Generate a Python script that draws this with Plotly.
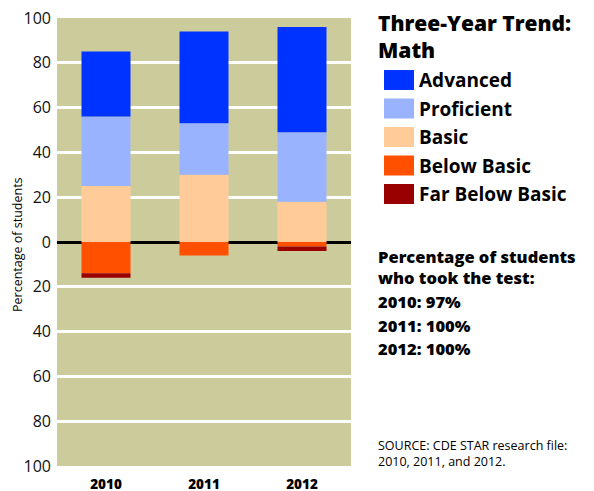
import plotly.graph_objects as go

years = ["2010", "2011", "2012"]
advanced = [29, 41, 47]
proficient = [31, 23, 31]
basic = [25, 30, 18]
below_basic = [14, 6, 2]
far_below_basic = [2, 0, 2]

level_names = ["Advanced", "Proficient", "Basic", "Below Basic", "Far Below Basic"]
level_colors = ["#0033FF", "#99B3FF", "#FFCC99", "#FF5000", "#990000"]

tick_vals = [-100, -80, -60, -40, -20, 0, 20, 40, 60, 80, 100]
tick_text = ["100", "80", "60", "40", "20", "0", "20", "40", "60", "80", "100"]

title_lines = ["Three-Year Trend:", "Math"]
tested_heading = ["Percentage of students", "who took the test:"]
tested_lines = ["2010: 97%", "2011: 100%", "2012: 100%"]
source_lines = ["SOURCE: CDE STAR research file:", "2010, 2011, and 2012."]

FONT = "Open Sans"
W, H = 594, 491
# plot area in pixels
L, R, T, B = 57, 351, 18, 466


def px(x):
    return (x - L) / (R - L)


def py(y):
    return (B - y) / (B - T)


fig = go.Figure()
stack = [
    (basic, 1, 2),
    (proficient, 1, 1),
    (advanced, 1, 0),
    (below_basic, -1, 3),
    (far_below_basic, -1, 4),
]
for vals, sign, ci in stack:
    fig.add_trace(go.Bar(
        x=years, y=[sign * v for v in vals], name=level_names[ci],
        marker=dict(color=level_colors[ci], line=dict(width=0)),
        showlegend=False, hoverinfo="x+y+name",
    ))

shapes = []
annotations = []

# Legend title
for i, line in enumerate(title_lines):
    annotations.append(dict(
        text=line, xref="paper", yref="paper", x=px(376), y=py(23 + i * 26.5),
        xanchor="left", yanchor="middle", showarrow=False,
        font=dict(family=FONT, size=21, color="#000", weight=800),
    ))

# Legend swatches and labels
for i, (name, col) in enumerate(zip(level_names, level_colors)):
    top = 70 + i * 28.5
    shapes.append(dict(
        type="rect", xref="paper", yref="paper",
        x0=px(384), x1=px(414), y0=py(top + 20), y1=py(top),
        fillcolor=col, line=dict(width=0),
    ))
    annotations.append(dict(
        text=name, xref="paper", yref="paper", x=px(417), y=py(top + 10),
        xanchor="left", yanchor="middle", showarrow=False,
        font=dict(family=FONT, size=19, color="#000", weight=700),
    ))

# Tested block
annotations.append(dict(
    text="<br>".join(tested_heading), xref="paper", yref="paper",
    x=px(376), y=py(267), xanchor="left", yanchor="middle", align="left",
    showarrow=False, font=dict(family=FONT, size=16.5, color="#000", weight=800),
))
for line, yy in zip(tested_lines, [301, 325, 348]):
    annotations.append(dict(
        text=line, xref="paper", yref="paper", x=px(376), y=py(yy),
        xanchor="left", yanchor="middle", showarrow=False,
        font=dict(family=FONT, size=16.5, color="#000", weight=800),
    ))

# Source block
annotations.append(dict(
    text="<br>".join(source_lines), xref="paper", yref="paper",
    x=px(376), y=py(453), xanchor="left", yanchor="middle", align="left",
    showarrow=False, font=dict(family=FONT, size=12.5, color="#000"),
))

# Y-axis title
annotations.append(dict(
    text="Percentage of students", xref="paper", yref="paper",
    x=px(17), y=py(244), xanchor="center", yanchor="middle",
    textangle=-90, showarrow=False,
    font=dict(family=FONT, size=12.5, color="#000"),
))

fig.update_layout(
    width=W, height=H,
    autosize=False,
    margin=dict(l=L, r=W - R, t=T, b=H - B, pad=0, autoexpand=False),
    paper_bgcolor="white",
    plot_bgcolor="#CCCB9C",
    barmode="relative",
    bargap=0.5,
    shapes=shapes,
    annotations=annotations,
    font=dict(family=FONT, color="#000"),
    xaxis=dict(
        showgrid=False, zeroline=False, showline=False, ticks="",
        automargin=False, ticklabelstandoff=8,
        tickfont=dict(family=FONT, size=13.5, color="#000", weight=800),
        fixedrange=True,
    ),
    yaxis=dict(
        range=[-100, 100], tickvals=tick_vals, ticktext=tick_text,
        automargin=False, ticklabeloverflow="allow",
        showgrid=True, gridcolor="white", gridwidth=3,
        zeroline=True, zerolinecolor="black", zerolinewidth=2.5,
        showline=False, ticks="", ticklabelstandoff=5,
        tickfont=dict(family=FONT, size=16, color="#111"),
        fixedrange=True,
    ),
)

fig.write_html(
    "out.html",
    config={"displayModeBar": False},
    post_script="document.body.style.margin='0';document.body.style.overflow='hidden';",
)
